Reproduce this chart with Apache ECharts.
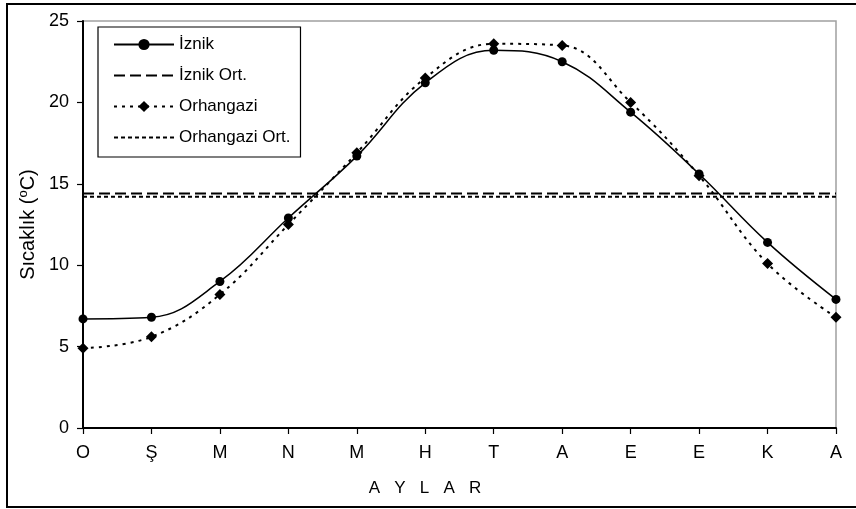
<!DOCTYPE html>
<html>
<head>
<meta charset="utf-8">
<script src="https://cdn.jsdelivr.net/npm/echarts@6/dist/echarts.min.js"></script>
<style>html,body{margin:0;padding:0;background:#fff}#c{width:856px;height:509px}</style>
</head>
<body>
<div id="c"></div>
<script>
var months = ['O','Ş','M','N','M','H','T','A','E','E','K','A'];
var iznik = [6.7, 6.8, 9.0, 12.9, 16.7, 21.2, 23.2, 22.5, 19.4, 15.6, 11.4, 7.9];
var orhangazi = [4.9, 5.6, 8.2, 12.5, 16.9, 21.5, 23.6, 23.5, 20.0, 15.5, 10.1, 6.8];
var iznikOrt = [14.4, 14.4, 14.4, 14.4, 14.4, 14.4, 14.4, 14.4, 14.4, 14.4, 14.4, 14.4];
var orhangaziOrt = [14.2, 14.2, 14.2, 14.2, 14.2, 14.2, 14.2, 14.2, 14.2, 14.2, 14.2, 14.2];
var yTicks = {min: 0, max: 25, interval: 5};

var FONT = 'Liberation Sans, Arial, sans-serif';
var chart = echarts.init(document.getElementById('c'), null, {renderer: 'canvas'});
chart.setOption({
  animation: false,
  backgroundColor: '#fff',
  textStyle: {fontFamily: FONT, color: '#000'},
  graphic: [
    {type: 'rect', shape: {x: 7, y: 4, width: 870, height: 503}, style: {fill: 'none', stroke: '#000', lineWidth: 2}, silent: true, z: 100},
    {type: 'text', x: 425, y: 488, style: {text: 'A   Y   L   A   R', fontSize: 17, fontFamily: FONT, fill: '#000', align: 'center', verticalAlign: 'middle'}}
  ],
  grid: {left: 83, top: 21, right: 20, bottom: 81, show: true, borderColor: '#a0a0a0', borderWidth: 1.5, backgroundColor: 'transparent'},
  legend: {
    left: 98, top: 27, orient: 'vertical',
    padding: [9, 10, 11, 15],
    itemWidth: 60, itemHeight: 14, itemGap: 14,
    backgroundColor: '#fff', borderColor: '#000', borderWidth: 1.2,
    textStyle: {fontSize: 17, fontFamily: FONT, color: '#000'},
    data: ['İznik', 'İznik Ort.', 'Orhangazi', 'Orhangazi Ort.']
  },
  xAxis: {
    type: 'category', data: months, boundaryGap: false,
    axisLine: {lineStyle: {color: '#000', width: 2}},
    axisTick: {show: true, length: 6, lineStyle: {color: '#000', width: 1.2}},
    axisLabel: {color: '#000', fontSize: 18, margin: 16, fontFamily: FONT, interval: 0}
  },
  yAxis: {
    type: 'value', min: yTicks.min, max: yTicks.max, interval: yTicks.interval,
    name: '{n|Sıcaklık (}{sup|o}{n|C)}', nameLocation: 'middle', nameGap: 43,
    nameTextStyle: {fontSize: 20, color: '#000', fontFamily: FONT,
      rich: {
        n: {fontSize: 20, color: '#000', fontFamily: FONT},
        sup: {fontSize: 13, verticalAlign: 'top', padding: [0, 0, 9, 0], color: '#000', fontFamily: FONT}
      }},
    axisLine: {show: true, lineStyle: {color: '#000', width: 2}},
    axisTick: {show: true, length: 6, lineStyle: {color: '#000', width: 1.2}},
    axisLabel: {color: '#000', fontSize: 18, margin: 14, fontFamily: FONT},
    splitLine: {show: false}
  },
  series: [
    {name: 'İznik Ort.', type: 'line', data: iznikOrt, symbol: 'circle', showSymbol: false,
     itemStyle: {color: 'rgba(0,0,0,0)'},
     lineStyle: {color: '#000', width: 2, type: [11, 5]}, z: 2},
    {name: 'Orhangazi Ort.', type: 'line', data: orhangaziOrt, symbol: 'circle', showSymbol: false,
     itemStyle: {color: 'rgba(0,0,0,0)'},
     lineStyle: {color: '#000', width: 2, type: [4, 3]}, z: 2},
    {name: 'Orhangazi', type: 'line', data: orhangazi, smooth: 0.4, symbol: 'diamond', symbolSize: 11,
     itemStyle: {color: '#000'}, lineStyle: {color: '#000', width: 2, type: [3, 5]}, z: 3},
    {name: 'İznik', type: 'line', data: iznik, smooth: 0.4, symbol: 'circle', symbolSize: 9,
     itemStyle: {color: '#000'}, lineStyle: {color: '#000', width: 1.5}, z: 4}
  ]
});
</script>
</body>
</html>
